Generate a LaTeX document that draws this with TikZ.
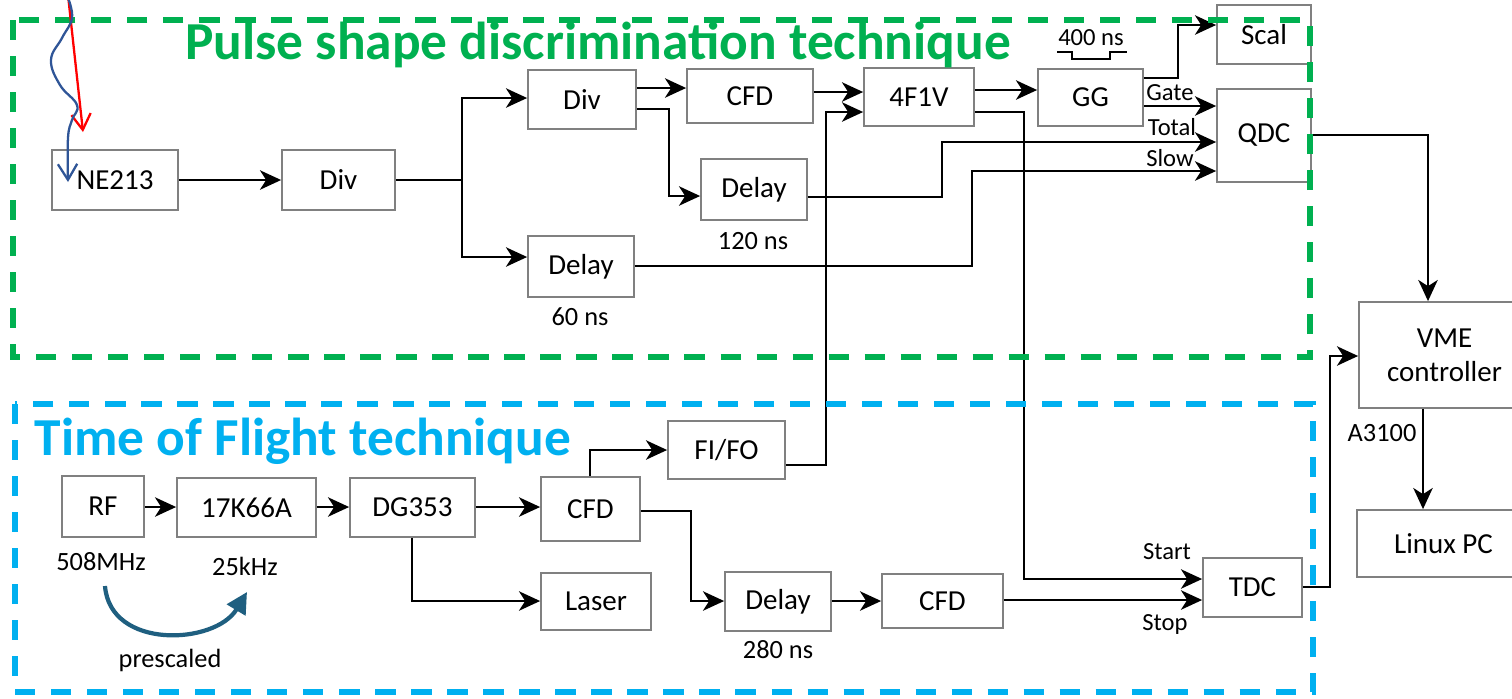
\documentclass[tikz,border=0pt]{standalone}
\usepackage{fontspec}
\setmainfont{Carlito}
\usetikzlibrary{arrows.meta,calc}
\definecolor{pgreen}{HTML}{00B050}
\definecolor{tblue}{HTML}{00B0F0}
\definecolor{wblue}{HTML}{2F5597}
\definecolor{arcblue}{HTML}{1F5F80}
\tikzset{
  blk/.style={draw=black!50, line width=1pt, fill=white, inner sep=0pt, align=center, font=\fontsize{16.5}{19.5}\selectfont},
  arr/.style={line width=1.6pt, -{Stealth[length=12pt,width=11pt,inset=3.5pt]}},
  lbl/.style={font=\fontsize{15}{17}\selectfont, inner sep=0pt},
  sig/.style={font=\fontsize{14}{16}\selectfont, inner sep=0pt},
  frame/.style={line width=3.2pt, dash pattern=on 11.5pt off 9pt},
  ttl/.style={font=\fontsize{30.4}{33}\selectfont\bfseries, inner sep=0pt},
}
\newcommand\mkbox[6]{\node[blk, minimum width={(#4-#2)*0.02cm}, minimum height={(#5-#3)*0.02cm}] (#1) at ({(#2+#4)/2},{(#3+#5)/2}) {#6};}
\begin{document}
\begin{tikzpicture}[x=0.02cm,y=-0.02cm]
\useasboundingbox (0,0) rectangle (1512,698);
% boxes
\mkbox{ne}{52}{150}{178}{210}{NE213}
\mkbox{div1}{282}{150}{395}{210}{Div}
\mkbox{div2}{528}{70}{636}{129}{Div}
\mkbox{cfd1}{687}{69}{813}{123}{CFD}
\mkbox{del120}{701}{159}{807}{220}{Delay}
\mkbox{del60}{528}{236}{634}{297}{Delay}
\mkbox{f4}{864}{68}{974}{126}{4F1V}
\mkbox{gg}{1038}{69}{1143}{126}{GG}
\mkbox{scal}{1217}{5}{1311}{64}{Scal}
\mkbox{qdc}{1217}{89}{1311}{182}{QDC}
\mkbox{vme}{1359}{302}{1530}{408}{VME\\controller}
\mkbox{linux}{1357}{510}{1530}{577}{Linux PC}
\mkbox{rf}{62}{476}{144}{537}{RF}
\mkbox{k66}{177}{478}{316}{537}{17K66A}
\mkbox{dg}{350}{478}{475}{537}{DG353}
\mkbox{cfd2}{541}{477}{640}{541}{CFD}
\mkbox{fifo}{668}{421}{785}{479}{FI/FO}
\mkbox{laser}{541}{573}{651}{630}{Laser}
\mkbox{del280}{725}{572}{831}{631}{Delay}
\mkbox{cfd3}{882}{574}{1003}{628}{CFD}
\mkbox{tdc}{1203}{558}{1302}{617}{TDC}
% labels
\node[lbl] (l120) at (753,241) {120 ns};
\node[lbl] (l60) at (580,317) {60 ns};
\node[lbl] (l280) at (778,650) {280 ns};
\node[lbl] (l508) at (101,562) {508MHz};
\node[lbl] (l25) at (245,566) {25kHz};
\node[lbl] (lpre) at (170,660) {prescaled};
\node[lbl] (la3) at (1382,433) {A3100};
\node[sig] (lstart) at (1167,552) {Start};
\node[sig] (lstop) at (1165,624) {Stop};
\node[sig] (lgate) at (1170,93) {Gate};
\node[sig] (ltotal) at (1172,127) {Total};
\node[sig] (lslow) at (1170,158) {Slow};
\node[sig] (l400) at (1091,38) {400 ns};
\draw[line width=1.1pt] (1057,52) -- (1072,52) -- (1072,59) -- (1110,59) -- (1110,52) -- (1127,52);
% titles
\node[ttl, text=pgreen] (tpsd) at (598,45) {Pulse shape discrimination technique};
\node[ttl, text=tblue] (ttof) at (303,441) {Time of Flight technique};
% connectors top
\coordinate (j1) at (462,180);
\draw[arr] (ne) -- (div1);
\draw[line width=1.6pt] (div1.east) -- (j1);
\draw[arr] (j1) |- (div2.west |- 0,98);
\draw[arr] (j1) |- (del60.west |- 0,257);
\draw[arr] (div2.east |- 0,88) -- (cfd1.west |- 0,88);
\draw[arr] (div2.east |- 0,109) -- (669,109) |- (del120.west |- 0,196);
\draw[arr] (cfd1.east |- 0,92) -- (f4.west |- 0,92);
\draw[arr] (fifo.east |- 0,465) -- (826,465) |- (f4.west |- 0,112);
\draw[arr] (f4.east |- 0,90) -- (gg.west |- 0,90);
\draw[arr] (f4.east |- 0,112) -- (1024,112) |- (tdc.west |- 0,579);
\draw[arr] (gg.east |- 0,78) -- (1178,78) |- (scal.west |- 0,25);
\draw[arr] (gg.east |- 0,106) -- (qdc.west |- 0,106);
\draw[arr] (del120.east |- 0,197) -- (942,197) |- (qdc.west |- 0,142);
\draw[arr] (del60.east |- 0,266) -- (972,266) |- (qdc.west |- 0,171);
\draw[arr] (qdc.east |- 0,135) -| (vme.north -| 1428,0);
\draw[arr] (vme.south -| 1423,0) -- (linux.north -| 1423,0);
\draw[arr] (tdc.east |- 0,587) -- (1330,587) |- (vme.west |- 0,356);
% connectors bottom
\draw[arr] (rf.east |- 0,507) -- (k66.west |- 0,507);
\draw[arr] (k66.east |- 0,507) -- (dg.west |- 0,507);
\draw[arr] (dg.east |- 0,507) -- (cfd2.west |- 0,507);
\draw[arr] (cfd2.north -| 590,0) |- (fifo.west |- 0,450);
\draw[arr] (dg.south -| 412,0) |- (laser.west |- 0,601);
\draw[arr] (cfd2.east |- 0,511) -- (691,511) |- (del280.west |- 0,601);
\draw[arr] (del280.east |- 0,601) -- (cfd3.west |- 0,601);
\draw[arr] (cfd3.east |- 0,600) -- (tdc.west |- 0,600);
% prescaled arc
\draw[arcblue, line width=2.4pt, -{Triangle[length=12pt,width=12pt]}] (105,586) .. controls (110,650) and (215,645) .. (247,592);
% frames
\draw[pgreen, frame] (13,20) rectangle (1310,357);
\draw[tblue, frame] (15,404) rectangle (1313,692);
% incoming rays
\draw[red, line width=1.3pt, -{Straight Barb[length=9pt,width=11pt]}] (68,-5) -- (83,132);
\draw[wblue, line width=1.3pt, -{Straight Barb[length=9pt,width=11pt]}] plot[smooth, tension=0.7] coordinates {(68,-2) (72,18) (62,38) (51,60) (60,85) (77,105) (72,120) (68,138) (68,182)};
\end{tikzpicture}
\end{document}
